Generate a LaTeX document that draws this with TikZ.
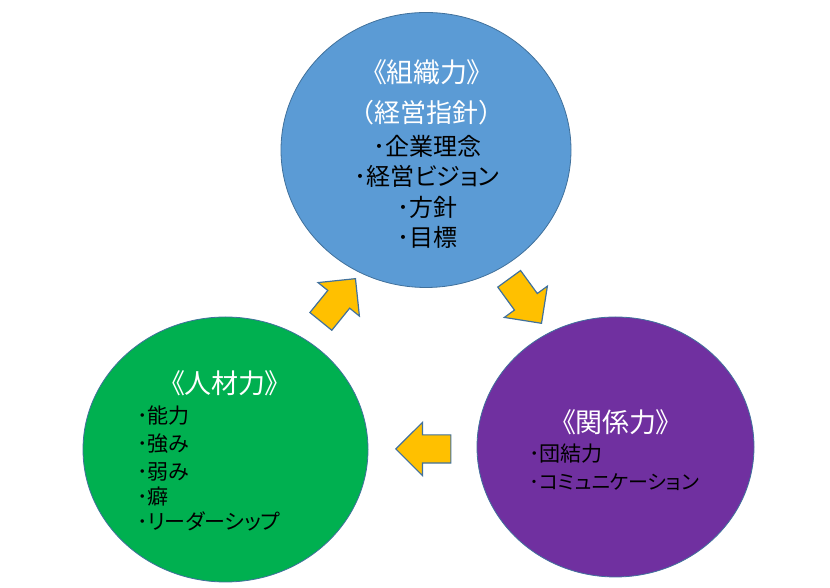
\documentclass[tikz,border=0pt]{standalone}
\usepackage{fontspec}
\setmainfont{Noto Sans CJK JP}[RawFeature={+palt}]
\newfontfamily\fullwidth{Noto Sans CJK JP}
\usetikzlibrary{shapes.geometric,shapes.arrows}
\definecolor{cblue}{HTML}{5B9BD5}
\definecolor{cgreen}{HTML}{00B050}
\definecolor{cpurple}{HTML}{7030A0}
\definecolor{cyellow}{HTML}{FFC000}
\definecolor{cedge}{HTML}{41719C}
\tikzset{
  bubble/.style={ellipse, draw=cedge, line width=0.8pt, inner sep=0pt},
  blockarrow/.style={single arrow, draw=cedge, fill=cyellow, line width=1.2pt,
    inner xsep=0pt, inner ysep=13.5pt, minimum height=55pt, minimum width=52pt,
    single arrow head extend=12.5pt, anchor=tip},
  titletext/.style={text=white, anchor=base, inner sep=0pt, font=\fontsize{27}{30}\selectfont},
  toptext/.style={text=black, anchor=base, inner sep=0pt, font=\fontsize{24}{28}\selectfont},
  itemtext/.style={text=black, anchor=base west, inner sep=0pt, font=\fontsize{21}{24}\selectfont},
}
\begin{document}
\begin{tikzpicture}[x=1pt,y=1pt]
\useasboundingbox (0,0) rectangle (830,588);
% circles
\node[bubble, fill=cblue, minimum width=290pt, minimum height=275pt] (org) at (426,438) {};
\node[bubble, fill=cgreen, minimum width=285pt, minimum height=265pt] (hr) at (225.5,138.5) {};
\node[bubble, fill=cpurple, minimum width=277pt, minimum height=260pt] (rel) at (615.5,141) {};
% arrows (placed by their tips)
\node[blockarrow, rotate=51] (a1) at (356,310) {};
\node[blockarrow, rotate=-54] (a2) at (542,264) {};
\node[blockarrow, rotate=180] (a3) at (395,139) {};
% top texts
\node[titletext] (t1) at (427,505.5) {《組織力》};
\node[titletext, font=\fullwidth\fontsize{26}{30}\selectfont] (t2) at (426,465) {\makebox[1em][r]{（}経営指針\makebox[1em][l]{）}};
\node[toptext] (t3) at (427,432) {･企業理念};
\node[toptext] (t4) at (427,402) {･経営ビジョン};
\node[toptext] (t5) at (427,371) {･方針};
\node[toptext] (t6) at (427,341) {･目標};
% left texts
\node[titletext] (h0) at (225,194.5) {《人材力》};
\node[itemtext] (h1) at (137,164) {･能力};
\node[itemtext] (h2) at (137,136) {･強み};
\node[itemtext] (h3) at (137,108) {･弱み};
\node[itemtext] (h4) at (137,83) {･癖};
\node[itemtext] (h5) at (137,58) {･リーダーシップ};
% right texts
\node[titletext] (r0) at (616,155.5) {《関係力》};
\node[itemtext] (r1) at (529,126) {･団結力};
\node[itemtext, font=\fontsize{20}{24}\selectfont] (r2) at (529,98) {･コミュニケーション};
\end{tikzpicture}
\end{document}
